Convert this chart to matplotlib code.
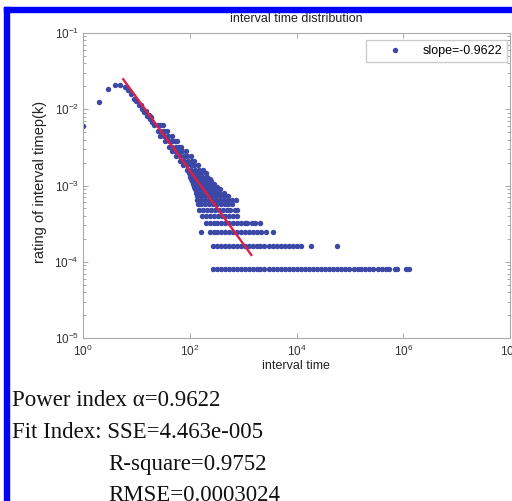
import matplotlib.pyplot as plt
from matplotlib.patches import Rectangle
from matplotlib.ticker import NullLocator, LogLocator

plt.rcParams['font.family'] = ['Liberation Sans', 'DejaVu Sans']
plt.rcParams['mathtext.default'] = 'regular'

# first interval times (one point each)
head_x = [1, 2, 3, 4, 5, 6, 7, 8, 9, 10, 11, 12, 13, 14, 15, 16, 17, 18, 19, 20]
head_y = [6.0e-3, 1.26e-2, 1.83e-2, 2.06e-2, 2.06e-2, 1.94e-2, 1.8e-2, 1.6e-2,
          1.35e-2, 1.3e-2, 1.12e-2, 1.15e-2, 1.0e-2, 9.3e-3, 9.4e-3, 8.2e-3,
          8.4e-3, 7.4e-3, 7.8e-3, 6.9e-3]

# rest of the points, grouped by rate level
band_y = [8.1e-5, 1.61e-4, 2.42e-4, 3.23e-4, 4.03e-4, 4.84e-4, 5.65e-4, 6.45e-4,
          7.26e-4, 8.06e-4, 8.87e-4, 9.68e-4, 1.05e-3, 1.13e-3, 1.21e-3, 1.29e-3,
          1.45e-3, 1.61e-3, 1.85e-3, 2.10e-3, 2.42e-3, 2.82e-3, 3.23e-3, 3.79e-3,
          4.44e-3, 5.24e-3, 6.2e-3]
band_x = [
    [270, 320, 380, 450, 540, 640, 760, 900, 1070, 1270, 1500, 1800, 2100, 2500,
     3000, 3600, 4300, 5100, 6100, 7200, 8600, 10200, 12200, 14500, 17200, 20500,
     24400, 29000, 34500, 41000, 49000, 58000, 69000, 82000, 98000, 117000,
     139000, 165000, 196000, 233000, 277000, 330000, 392000, 466000, 550000,
     700000, 780000, 1130000, 1290000],
    [270, 320, 380, 450, 540, 640, 760, 900, 1070, 1270, 1500, 1800, 2100, 2500,
     3000, 3600, 4300, 5100, 6100, 7200, 8600, 10200, 11900, 19000, 58000],
    [160, 236, 280, 330, 390, 460, 550, 650, 770, 910, 1080, 1280, 1520, 1800,
     2130, 2630, 3700],
    [199, 235, 280, 330, 390, 460, 550, 650, 770, 910, 1080, 1160, 1440, 1700, 2030],
    [172, 205, 240, 285, 335, 395, 465, 550, 650, 760],
    [150, 178, 210, 250, 295, 350, 415, 490, 580, 690, 770],
    [140, 165, 195, 230, 270, 320, 380, 450, 530, 620],
    [138, 162, 190, 225, 265, 315, 370, 440, 520, 620, 720],
    [135, 160, 190, 225, 265, 315, 370, 440, 510],
    [130, 155, 185, 220, 260, 305, 360, 430],
    [125, 150, 178, 210, 250, 300, 365],
    [120, 145, 172, 205, 245, 290, 320],
    [114, 136, 162, 193, 230, 280],
    [110, 131, 156, 186, 220, 255],
    [105, 125, 150, 178, 210, 235],
    [100, 120, 143, 170, 200, 215],
    [96, 114, 136, 162, 198],
    [88, 105, 125, 148, 175],
    [75, 89, 105, 122, 140],
    [66, 79, 94, 108, 120],
    [55, 65, 77, 90, 105],
    [46, 54, 63, 73, 84],
    [40, 47, 55, 63, 70],
    [34, 40, 47, 53, 57],
    [28, 33, 39, 46],
    [25, 29, 33, 38],
    [21, 25, 28, 31],
]

# fitted line end points
fit_x = [5.67, 1422]
fit_y = [2.47e-2, 1.23e-4]

fit_label = 'slope=-0.9622'
info_lines = ['Power index \u03b1=0.9622', 'Fit Index: SSE=4.463e-005',
              'R-square=0.9752', 'RMSE=0.0003024']

dot_color = '#3b48a6'
line_color = '#dc1f45'

fig = plt.figure(figsize=(5.12, 5.01), dpi=100)

# blue frame (top and left only, the picture is cropped)
fig.patches.append(Rectangle((4/512, 1 - 12/501), 508/512, 5/501,
                             transform=fig.transFigure, color='#0000ff'))
fig.patches.append(Rectangle((4/512, 0), 5/512, 1 - 7/501,
                             transform=fig.transFigure, color='#0000ff'))

ax = fig.add_axes([83/512, 1 - 338/501, 427/512, 305/501])
ax.set_xscale('log')
ax.set_yscale('log')

all_x = list(head_x)
all_y = list(head_y)
for yv, xs in zip(band_y, band_x):
    all_x += xs
    all_y += [yv] * len(xs)

ax.plot(all_x, all_y, 'o', ms=3.9, mew=0, color=dot_color, label=fit_label)
ax.plot(fit_x, fit_y, '-', lw=1.7, color=line_color, zorder=3)

ax.set_xlim(1, 1e8)
ax.set_ylim(1e-5, 1e-1)

xt = [1e0, 1e2, 1e4, 1e6, 1e8]
ax.set_xticks(xt)
ax.set_xticklabels([r'$10^{%d}$' % p for p in [0, 2, 4, 6, 8]])
ax.xaxis.set_minor_locator(NullLocator())
yt = [1e-5, 1e-4, 1e-3, 1e-2, 1e-1]
ax.set_yticks(yt)
ax.set_yticklabels([r'$10^{%d}$' % p for p in [-5, -4, -3, -2, -1]])
ax.yaxis.set_minor_locator(LogLocator(subs=range(2, 10)))

ax.tick_params(which='both', direction='in', top=True, right=True,
               color='#999999', width=0.6, labelsize=8.5, labelcolor='#333333')
ax.tick_params(which='major', length=3.5)
ax.tick_params(which='minor', length=2)
ax.tick_params(axis='x', pad=4)
ax.tick_params(axis='y', pad=3)
for s in ax.spines.values():
    s.set_color('#aaaaaa')
    s.set_linewidth(0.8)

ax.legend(loc='upper right', bbox_to_anchor=(1 - 3/427, 1 - 7/305),
          borderaxespad=0, fontsize=9, fancybox=False, edgecolor='#cccccc',
          borderpad=0.4, handlelength=3.8, handletextpad=0.3, numpoints=1,
          framealpha=1)

# titles and labels
fig.text(296/512, 1 - 19/501, 'interval time distribution', ha='center',
         va='center', fontsize=9, color='#222222')
fig.text(296/512, 1 - 366/501, 'interval time', ha='center', va='center',
         fontsize=9, color='#222222')
fig.text(40/512, 1 - 182/501, 'rating of interval timep(k)', ha='center',
         va='center', rotation=90, fontsize=10.5, color='#222222')

# fit summary under the chart
info_pos = [(12, 406), (12, 438), (108, 470), (108, 501)]
for txt, (px, py) in zip(info_lines, info_pos):
    fig.text(px/512, 1 - py/501, txt, family='Liberation Serif', fontsize=16.5,
             va='baseline', ha='left', color='#111111')

fig.savefig('out.png', dpi=100)
